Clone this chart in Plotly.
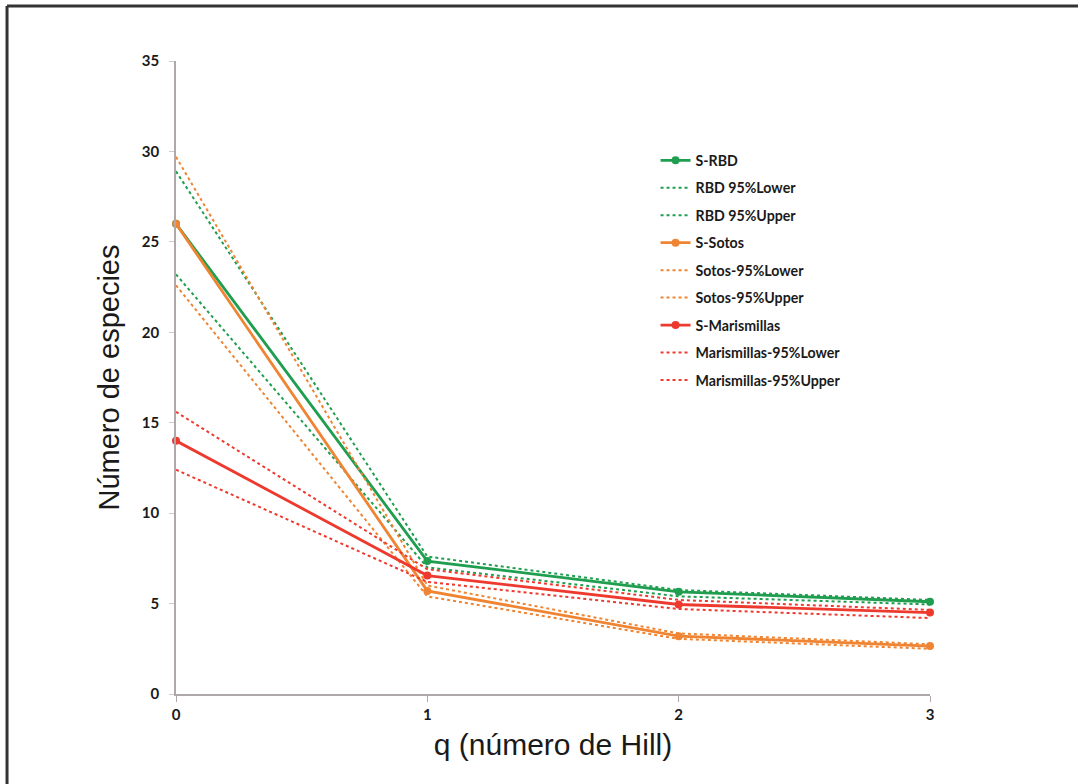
import plotly.graph_objects as go

q = [0, 1, 2, 3]

s_rbd = [26.0, 7.35, 5.65, 5.1]
rbd_lower = [23.2, 7.0, 5.4, 4.95]
rbd_upper = [28.9, 7.6, 5.75, 5.2]

s_sotos = [26.0, 5.7, 3.2, 2.65]
sotos_lower = [22.6, 5.4, 3.05, 2.5]
sotos_upper = [29.7, 6.0, 3.35, 2.75]

s_maris = [14.0, 6.55, 4.95, 4.5]
maris_lower = [12.4, 6.2, 4.7, 4.2]
maris_upper = [15.6, 6.9, 5.2, 4.65]

GREEN = "#1f9e4f"
ORANGE = "#ef8433"
RED = "#ee3a2e"

series = [
    ("S-RBD", s_rbd, GREEN, "solid"),
    ("RBD 95%Lower", rbd_lower, GREEN, "dot"),
    ("RBD 95%Upper", rbd_upper, GREEN, "dot"),
    ("S-Sotos", s_sotos, ORANGE, "solid"),
    ("Sotos-95%Lower", sotos_lower, ORANGE, "dot"),
    ("Sotos-95%Upper", sotos_upper, ORANGE, "dot"),
    ("S-Marismillas", s_maris, RED, "solid"),
    ("Marismillas-95%Lower", maris_lower, RED, "dot"),
    ("Marismillas-95%Upper", maris_upper, RED, "dot"),
]

fig = go.Figure()
for i, (name, ys, col, dash) in enumerate(series):
    if dash == "solid":
        fig.add_trace(go.Scatter(
            x=q, y=ys, name=name, mode="lines+markers",
            line=dict(color=col, width=2.8),
            marker=dict(color=col, size=8),
            legendgroup=f"g{i}", cliponaxis=False))
    else:
        fig.add_trace(go.Scatter(
            x=q, y=ys, name=name, mode="lines",
            line=dict(color=col, width=2, dash="dot"),
            legendgroup=f"g{i}", cliponaxis=False))

fig.update_layout(
    width=1078, height=784,
    margin=dict(l=176, r=148, t=61, b=90),
    paper_bgcolor="white", plot_bgcolor="white",
    font=dict(family="Lato, 'Liberation Sans', sans-serif", color="#222"),
    showlegend=True,
    legend=dict(
        x=0.636, y=0.868, xanchor="left", yanchor="top",
        font=dict(family="Lato, sans-serif", size=14.2, color="#1a1a1a", weight="bold"),
        tracegroupgap=6, traceorder="grouped", itemwidth=30,
        bgcolor="rgba(0,0,0,0)",
    ),
    xaxis=dict(
        range=[0, 3], tickvals=[0, 1, 2, 3], ticktext=["0", "1", "2", "3"],
        showgrid=False, zeroline=False, showline=True,
        linecolor="#b0a8a8", linewidth=1.5,
        ticks="outside", ticklen=6, tickcolor="#b0a8a8",
        tickfont=dict(family="Lato, sans-serif", size=15, color="#1a1a1a", weight="bold"),
        title=dict(text="q (número de Hill)",
                   font=dict(family="'Liberation Sans', Arial, sans-serif", size=30, color="#1a1a1a"),
                   standoff=12),
    ),
    yaxis=dict(
        range=[0, 35], tickvals=[0, 5, 10, 15, 20, 25, 30, 35],
        showgrid=False, zeroline=False, showline=True,
        linecolor="#b0a8a8", linewidth=1.5,
        ticks="outside", ticklen=5, tickcolor="#d0caca",
        ticklabelstandoff=7,
        tickfont=dict(family="Lato, sans-serif", size=15, color="#1a1a1a", weight="bold"),
        title=dict(text="Número de especies",
                   font=dict(family="'Liberation Sans', Arial, sans-serif", size=29, color="#1a1a1a"),
                   standoff=14),
    ),
    shapes=[
        dict(type="line", xref="paper", yref="paper",
             x0=-0.2241, x1=1.2, y0=1.0869, y1=1.0869,
             line=dict(color="#333", width=3)),
        dict(type="line", xref="paper", yref="paper",
             x0=-0.2241, x1=-0.2241, y0=1.0869, y1=-0.15,
             line=dict(color="#333", width=3)),
    ],
)

fig.write_html("out.html")
